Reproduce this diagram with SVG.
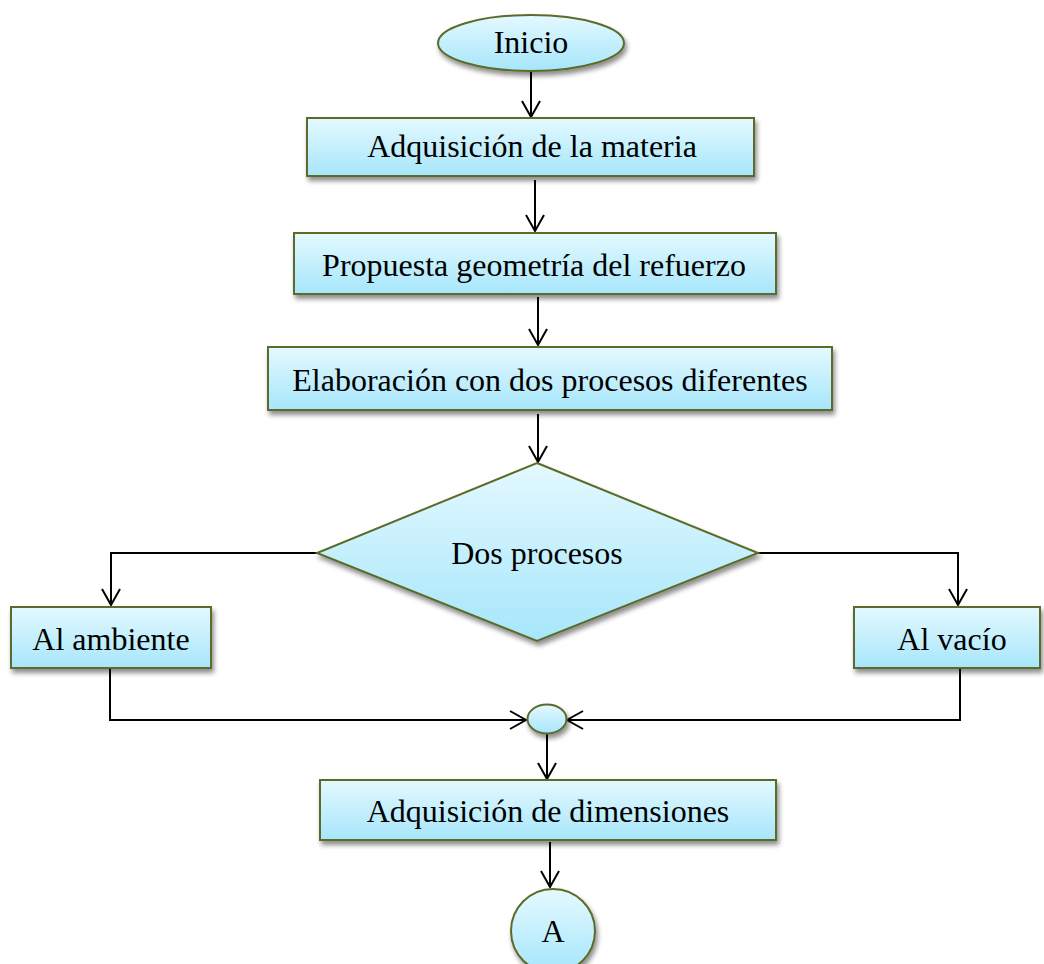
<svg xmlns="http://www.w3.org/2000/svg" width="1044" height="964" viewBox="0 0 1044 964">
<style>
.n{fill:url(#g);stroke:#5b6b2a;stroke-width:2;filter:url(#sh)}
.t{font-family:"Liberation Serif","Times New Roman",serif;font-size:32px;fill:#000;text-anchor:middle}
.c{fill:none;stroke:#000;stroke-width:2}
</style>
<defs>
<linearGradient id="g" x1="0" y1="0" x2="0" y2="1">
<stop offset="0" stop-color="#e4f9ff"/>
<stop offset="1" stop-color="#a6e6fb"/>
</linearGradient>
<filter id="sh" x="-10%" y="-10%" width="130%" height="140%">
<feGaussianBlur in="SourceAlpha" stdDeviation="2.5"/>
<feOffset dx="2" dy="4" result="b"/>
<feComponentTransfer><feFuncA type="linear" slope="0.45"/></feComponentTransfer>
<feMerge><feMergeNode/><feMergeNode in="SourceGraphic"/></feMerge>
</filter>
<marker id="a" markerWidth="24" markerHeight="24" refX="20" refY="12" orient="auto" markerUnits="userSpaceOnUse">
<polyline points="4,3 20,12 4,21" fill="none" stroke="#000" stroke-width="2"/>
</marker>
</defs>
<g id="connectors">
<line class="c" x1="531" y1="71" x2="531" y2="117" marker-end="url(#a)"/>
<line class="c" x1="535" y1="180" x2="535" y2="231" marker-end="url(#a)"/>
<line class="c" x1="538" y1="297" x2="538" y2="345" marker-end="url(#a)"/>
<line class="c" x1="538" y1="414" x2="538" y2="462" marker-end="url(#a)"/>
<polyline class="c" points="317,553 111,553 111,605" marker-end="url(#a)"/>
<polyline class="c" points="758,553 958,553 958,605" marker-end="url(#a)"/>
<polyline class="c" points="110,668 110,720 526,720" marker-end="url(#a)"/>
<polyline class="c" points="960,668 960,720 567,720" marker-end="url(#a)"/>
<line class="c" x1="547" y1="733" x2="547" y2="779" marker-end="url(#a)"/>
<line class="c" x1="550" y1="842" x2="550" y2="887" marker-end="url(#a)"/>
</g>
<g id="inicio"><ellipse class="n" cx="531" cy="43" rx="93" ry="28"/><text class="t" x="531" y="53">Inicio</text></g>
<g id="adq-materia"><rect class="n" x="307" y="118" width="447" height="58"/><text class="t" x="532" y="157">Adquisición de la materia</text></g>
<g id="propuesta"><rect class="n" x="294" y="233" width="482" height="61"/><text class="t" x="534" y="276">Propuesta geometría del refuerzo</text></g>
<g id="elaboracion"><rect class="n" x="268" y="347" width="564" height="63"/><text class="t" x="550" y="391">Elaboración con dos procesos diferentes</text></g>
<g id="dos-procesos"><polygon class="n" points="537,463 758,553 537,641 317,553"/><text class="t" x="537" y="564">Dos procesos</text></g>
<g id="al-ambiente"><rect class="n" x="11" y="607" width="200" height="61"/><text class="t" x="111" y="650">Al ambiente</text></g>
<g id="al-vacio"><rect class="n" x="854" y="607" width="186" height="61"/><text class="t" x="952" y="650">Al vacío</text></g>
<g id="union"><ellipse class="n" cx="547" cy="719" rx="19.5" ry="14.5"/></g>
<g id="adq-dimensiones"><rect class="n" x="320" y="780" width="456" height="60"/><text class="t" x="548" y="822">Adquisición de dimensiones</text></g>
<g id="conector-a"><ellipse class="n" cx="553" cy="931" rx="42" ry="42"/><text class="t" x="553" y="942">A</text></g>
</svg>
